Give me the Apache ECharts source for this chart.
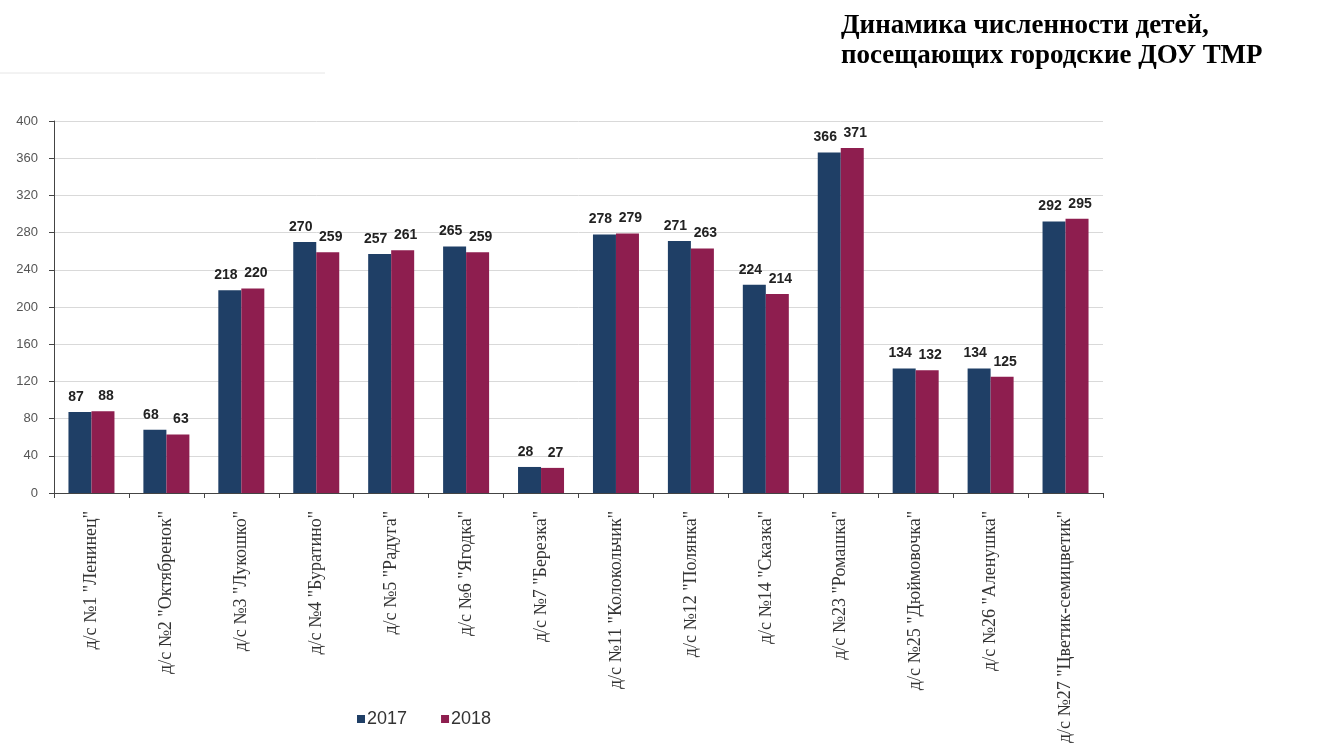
<!DOCTYPE html>
<html>
<head>
<meta charset="utf-8">
<script src="https://cdn.jsdelivr.net/npm/echarts@6/dist/echarts.min.js"></script>
<style>html,body{margin:0;padding:0;background:#fff}#c{width:1317px;height:753px}</style>
</head>
<body>
<div id="c"></div>
<script>
const categories = [
  'д/с №1 "Ленинец"',
  'д/с №2 "Октябренок"',
  'д/с №3 "Лукошко"',
  'д/с №4 "Буратино"',
  'д/с №5 "Радуга"',
  'д/с №6 "Ягодка"',
  'д/с №7 "Березка"',
  'д/с №11 "Колокольчик"',
  'д/с №12 "Полянка"',
  'д/с №14 "Сказка"',
  'д/с №23 "Ромашка"',
  'д/с №25 "Дюймовочка"',
  'д/с №26 "Аленушка"',
  'д/с №27 "Цветик-семицветик"'
];
const values2017 = [87, 68, 218, 270, 257, 265, 28, 278, 271, 224, 366, 134, 134, 292];
const values2018 = [88, 63, 220, 259, 261, 259, 27, 279, 263, 214, 371, 132, 125, 295];
const seriesNames = ['2017', '2018'];
const titleText = 'Динамика численности детей,\nпосещающих городские ДОУ ТМР';

const chart = echarts.init(document.getElementById('c'), null, {renderer: 'canvas'});
function labelCfg(dx) {
  return {
    show: true, position: 'top', distance: 8, offset: [dx, 0],
    fontFamily: 'Liberation Sans, Arial, sans-serif', fontWeight: 'bold',
    fontSize: 14, color: '#222'
  };
}
chart.setOption({
  animation: false,
  backgroundColor: '#fff',
  title: {
    text: titleText,
    left: 836, top: 6,
    textStyle: {
      fontFamily: 'Liberation Serif, Times New Roman, serif',
      fontWeight: 'bold', fontSize: 27, lineHeight: 30, color: '#000'
    }
  },
  legend: {
    data: seriesNames,
    left: 352, top: 705,
    itemWidth: 8, itemHeight: 8, itemGap: 34,
    icon: 'rect',
    textStyle: {fontFamily: 'Liberation Sans, Arial, sans-serif', fontSize: 18, color: '#333', padding: [0, 0, 0, -3]}
  },
  graphic: [{
    type: 'line', silent: true,
    shape: {x1: 0, y1: 73, x2: 325, y2: 73},
    style: {stroke: '#e6e6e6', lineWidth: 1}
  }],
  grid: {left: 54, right: 214, top: 121, bottom: 260, containLabel: false},
  xAxis: {
    type: 'category',
    data: categories,
    axisLine: {lineStyle: {color: '#444', width: 1}},
    axisTick: {show: true, length: 5, lineStyle: {color: '#444'}},
    axisLabel: {
      rotate: 90, margin: 18, interval: 0,
      fontFamily: 'Liberation Serif, Times New Roman, serif',
      fontSize: 18, color: '#333'
    }
  },
  yAxis: {
    type: 'value', min: 0, max: 400, interval: 40,
    axisLine: {show: true, lineStyle: {color: '#444'}},
    axisTick: {show: true, length: 5, lineStyle: {color: '#444'}},
    axisLabel: {fontFamily: 'Liberation Sans, Arial, sans-serif', fontSize: 13, color: '#555', margin: 16},
    splitLine: {lineStyle: {color: '#d9d9d9'}}
  },
  series: [
    {name: seriesNames[0], type: 'bar', data: values2017, barWidth: 23, barGap: '0%',
     itemStyle: {color: '#1f3f66'}, label: labelCfg(-4)},
    {name: seriesNames[1], type: 'bar', data: values2018, barWidth: 23, barGap: '0%',
     itemStyle: {color: '#8e1e4f'}, label: labelCfg(3)}
  ]
});
</script>
</body>
</html>
